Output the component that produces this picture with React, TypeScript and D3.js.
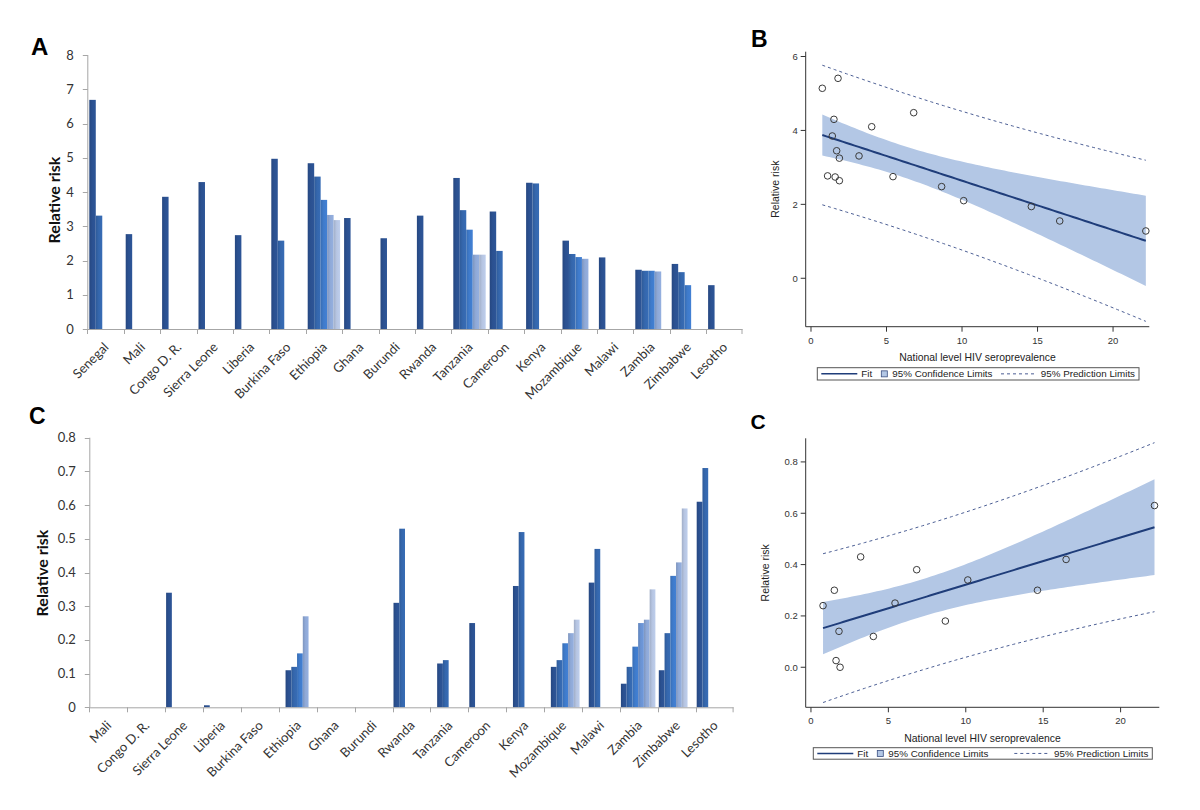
import React from 'react';
import * as d3 from 'd3';

// ---------------- Panel A (bars) ----------------
const countriesA = ['Senegal', 'Mali', 'Congo D. R.', 'Sierra Leone', 'Liberia', 'Burkina Faso', 'Ethiopia', 'Ghana', 'Burundi', 'Rwanda', 'Tanzania', 'Cameroon', 'Kenya', 'Mozambique', 'Malawi', 'Zambia', 'Zimbabwe', 'Lesotho'];
const a1 = [6.69, 2.77, 3.86, 4.29, 2.74, 4.97, 4.84, 3.24, 2.65, 3.31, 4.41, 3.43, 4.27, 2.58, 2.09, 1.73, 1.9, 1.28];
const a2 = [3.31, null, null, null, null, 2.58, 4.45, null, null, null, 3.47, 2.28, 4.25, 2.19, null, 1.7, 1.66, null];
const a3 = [null, null, null, null, null, null, 3.77, null, null, null, 2.9, null, null, 2.1, null, 1.7, 1.28, null];
const a4 = [null, null, null, null, null, null, 3.33, null, null, null, 2.17, null, null, 2.05, null, 1.68, null, null];
const a5 = [null, null, null, null, null, null, 3.18, null, null, null, 2.17, null, null, null, null, null, null, null];
const seriesA = [a1, a2, a3, a4, a5];
const yTicksA = [0, 1, 2, 3, 4, 5, 6, 7, 8];

// ---------------- Panel C (bars) ----------------
const countriesC = ['Mali', 'Congo D. R.', 'Sierra Leone', 'Liberia', 'Burkina Faso', 'Ethiopia', 'Ghana', 'Burundi', 'Rwanda', 'Tanzania', 'Cameroon', 'Kenya', 'Mozambique', 'Malawi', 'Zambia', 'Zimbabwe', 'Lesotho'];
const c1 = [null, null, 0.34, 0.006, null, null, null, null, 0.31, null, 0.25, null, null, null, 0.07, 0.11, 0.61];
const c2 = [null, null, null, null, null, 0.11, null, null, 0.53, 0.13, null, 0.36, 0.12, 0.37, 0.12, 0.22, 0.71];
const c3 = [null, null, null, null, null, 0.12, null, null, null, 0.14, null, 0.52, 0.14, 0.47, 0.18, 0.39, null];
const c4 = [null, null, null, null, null, 0.16, null, null, null, null, null, null, 0.19, null, 0.25, 0.43, null];
const c5 = [null, null, null, null, null, 0.27, null, null, null, null, null, null, 0.22, null, 0.26, 0.59, null];
const c6 = [null, null, null, null, null, null, null, null, null, null, null, null, 0.26, null, 0.35, null, null];
const seriesC = [c1, c2, c3, c4, c5, c6];
const yTicksC = [0, 0.1, 0.2, 0.3, 0.4, 0.5, 0.6, 0.7, 0.8];

// ---------------- Panel B (scatter) ----------------
const prevB = [0.75, 1.79, 1.52, 1.41, 1.7, 1.88, 1.1, 1.6, 1.88, 3.18, 4.02, 5.43, 6.8, 8.65, 10.11, 14.59, 16.47, 22.17];
const rrB = [5.14, 5.41, 4.3, 3.85, 3.45, 3.25, 2.77, 2.74, 2.64, 3.31, 4.1, 2.75, 4.48, 2.48, 2.1, 1.94, 1.55, 1.28];
const yTicksB = [0, 2, 4, 6];

// ---------------- Panel C (scatter) ----------------
const prevD = [0.78, 1.51, 1.81, 1.62, 1.88, 3.21, 4.03, 5.43, 6.83, 8.68, 10.13, 14.63, 16.48, 22.19];
const rrD = [0.24, 0.3, 0.14, 0.026, 0.0, 0.43, 0.12, 0.25, 0.38, 0.18, 0.34, 0.3, 0.42, 0.63];
const yTicksD = [0, 0.2, 0.4, 0.6, 0.8];
const xTicksScatter = [0, 5, 10, 15, 20];

const legendLabels = ['Fit', '95% Confidence Limits', '95% Prediction Limits'];

// ---------------- styling ----------------
const barPalette = ['#2b5191', '#3567ad', '#3f7bcb', '#6a93d3', '#8fa9d7', '#b6c5e2'];
function colorIdx(k: number, n: number) {
  if (n === 4) return [0, 1, 2, 4][k];
  if (n === 5) return [0, 1, 2, 4, 5][k];
  return k;
}
const BAR_FONT = 'Lato, "Open Sans", sans-serif';
const SC_FONT = '"Liberation Sans", Arimo, Arial, sans-serif';
const LETTER_FONT = '"Liberation Sans", Arial, sans-serif';

const tTable: Record<number, number> = { 8: 2.306, 9: 2.262, 10: 2.2281, 11: 2.201, 12: 2.1788, 13: 2.1604, 14: 2.1448, 15: 2.1314, 16: 2.1199, 17: 2.1098, 18: 2.1009, 19: 2.093, 20: 2.086 };

function regress(xs: number[], ys: number[]) {
  const n = xs.length;
  const xbar = d3.mean(xs)!;
  const ybar = d3.mean(ys)!;
  let sxx = 0, sxy = 0;
  xs.forEach((x, i) => { sxx += (x - xbar) ** 2; sxy += (x - xbar) * (ys[i] - ybar); });
  const b = sxy / sxx;
  const a = ybar - b * xbar;
  let sse = 0;
  xs.forEach((x, i) => { sse += (ys[i] - a - b * x) ** 2; });
  const s = Math.sqrt(sse / (n - 2));
  const t = tTable[n - 2] ?? 2.0;
  return (x: number) => {
    const fit = a + b * x;
    const k = 1 / n + (x - xbar) ** 2 / sxx;
    const ci = t * s * Math.sqrt(k);
    const pi = t * s * Math.sqrt(1 + k);
    return { x, fit, cl: fit - ci, cu: fit + ci, pl: fit - pi, pu: fit + pi };
  };
}

type BarProps = {
  id: string; cats: string[]; series: (number | null)[][]; yMax: number; yTicks: number[];
  left: number; right: number; top: number; bottom: number; slotPad: [number, number];
  labelX: number; labelY: number; labelSize: number;
};

function BarPanel(p: BarProps) {
  const x = d3.scaleBand<string>().domain(p.cats).range([p.left, p.right]).padding(0);
  const slots = d3.range(p.series.length).map(String);
  const xs = d3.scaleBand<string>().domain(slots).range([p.slotPad[0], x.bandwidth() - p.slotPad[1]]).padding(0);
  const y = d3.scaleLinear().domain([0, p.yMax]).range([p.bottom, p.top]);
  const fmt = (v: number) => (v === 0 ? '0' : d3.format('~g')(v));
  const bars: JSX.Element[] = [];
  p.cats.forEach((c, ci) => {
    const present = p.series.map((s, si) => ({ v: s[ci], si })).filter(d => d.v != null) as { v: number; si: number }[];
    present.forEach((d, k) => {
      const col = colorIdx(k, present.length);
      const x0 = x(c)! + xs(String(d.si))!;
      bars.push(
        <rect key={`${c}-${d.si}`} x={x0} y={y(d.v)} width={xs.bandwidth()} height={y(0) - y(d.v)}
          fill={`url(#${p.id}-g${col})`} />
      );
    });
  });
  const axisX = p.left + 0.5;
  return (
    <g>
      <defs>
        {barPalette.map((c, i) => (
          <linearGradient key={i} id={`${p.id}-g${i}`} x1="0" x2="1" y1="0" y2="0">
            <stop offset="0" stopColor={d3.color(c)!.darker(0.35).formatHex()} />
            <stop offset="0.45" stopColor={c} />
            <stop offset="1" stopColor={d3.color(c)!.brighter(0.12).formatHex()} />
          </linearGradient>
        ))}
      </defs>
      {bars}
      <line x1={axisX} x2={axisX} y1={p.top} y2={p.bottom} stroke="#a6a6a6" />
      {p.yTicks.map(t => (
        <g key={t}>
          <line x1={axisX - 5} x2={axisX} y1={Math.round(y(t)) + 0.5} y2={Math.round(y(t)) + 0.5} stroke="#a6a6a6" />
          <text x={axisX - 14} y={y(t)} dy="0.35em" textAnchor="end" fontSize={13} fill="#333" fontFamily={BAR_FONT}>{fmt(t)}</text>
        </g>
      ))}
      <line x1={p.left} x2={p.right} y1={p.bottom + 0.5} y2={p.bottom + 0.5} stroke="#a6a6a6" />
      {p.cats.map(c => (
        <line key={c} x1={Math.round(x(c)!) + 0.5} x2={Math.round(x(c)!) + 0.5} y1={p.bottom} y2={p.bottom + 5} stroke="#a6a6a6" />
      ))}
      <line x1={p.right - 0.5} x2={p.right - 0.5} y1={p.bottom} y2={p.bottom + 5} stroke="#a6a6a6" />
      {p.cats.map(c => {
        const cx = x(c)! + x.bandwidth() / 2;
        return (
          <text key={c} transform={`translate(${cx + 4},${p.bottom + 19}) rotate(-45)`} textAnchor="end"
            fontSize={13} fill="#333" fontFamily={BAR_FONT}>{c}</text>
        );
      })}
      <text transform={`translate(${p.labelX},${p.labelY}) rotate(-90)`} textAnchor="middle"
        fontSize={p.labelSize} fontWeight="bold" fill="#111" fontFamily={BAR_FONT}>Relative risk</text>
    </g>
  );
}

type ScProps = {
  xsData: number[]; ysData: number[]; xDomain: [number, number]; xRange: [number, number];
  yDomain: [number, number]; yRange: [number, number]; yTicks: number[]; yFmt: (v: number) => string;
  yLabelX: number; xLabelY: number; legendBox: [number, number, number, number]; fs: number;
};

function ScatterPanel(p: ScProps) {
  const x = d3.scaleLinear().domain(p.xDomain).range(p.xRange);
  const y = d3.scaleLinear().domain(p.yDomain).range(p.yRange);
  const model = regress(p.xsData, p.ysData);
  const xmin = d3.min(p.xsData)!, xmax = d3.max(p.xsData)!;
  const samples = d3.range(81).map(i => model(xmin + (xmax - xmin) * i / 80));
  const area = d3.area<any>().x(d => x(d.x)).y0(d => y(d.cl)).y1(d => y(d.cu));
  const line = (key: string) => d3.line<any>().x(d => x(d.x)).y(d => y(d[key]))(samples) as string;
  const [x0, x1] = p.xRange;
  const [yb, yt] = p.yRange;
  const [lx, ly, lw, lh] = p.legendBox;
  const lyc = ly + lh / 2;
  const fs = p.fs;
  return (
    <g fontFamily={SC_FONT}>
      <path d={area(samples) as string} fill="#b3c7e5" />
      <path d={line('pu')} fill="none" stroke="#4b5e94" strokeWidth={1} strokeDasharray="3 3" />
      <path d={line('pl')} fill="none" stroke="#4b5e94" strokeWidth={1} strokeDasharray="3 3" />
      <path d={line('fit')} fill="none" stroke="#1f3d7a" strokeWidth={2} />
      {p.xsData.map((v, i) => (
        <circle key={i} cx={x(v)} cy={y(p.ysData[i])} r={3.3} fill="none" stroke="#3a3a3a" strokeWidth={1} />
      ))}
      <line x1={x0} x2={x0} y1={yt} y2={yb} stroke="#333" />
      <line x1={x0} x2={x1} y1={yb} y2={yb} stroke="#333" />
      {p.yTicks.map(t => (
        <g key={t}>
          <line x1={x0 - 5} x2={x0} y1={y(t)} y2={y(t)} stroke="#333" />
          <text x={x0 - 8} y={y(t)} dy="0.35em" textAnchor="end" fontSize={fs} fill="#333">{p.yFmt(t)}</text>
        </g>
      ))}
      {xTicksScatter.map(t => (
        <g key={t}>
          <line x1={x(t)} x2={x(t)} y1={yb} y2={yb + 5} stroke="#333" />
          <text x={x(t)} y={yb + 17} textAnchor="middle" fontSize={fs} fill="#333">{t}</text>
        </g>
      ))}
      <text x={(x0 + x1) / 2} y={p.xLabelY} textAnchor="middle" fontSize={10.4} fill="#222">National level HIV seroprevalence</text>
      <text transform={`translate(${p.yLabelX},${(yt + yb) / 2}) rotate(-90)`} textAnchor="middle" fontSize={10.5} fill="#222">Relative risk</text>
      <rect x={lx} y={ly} width={lw} height={lh} fill="#fff" stroke="#555" strokeWidth={1} />
      <line x1={lx + 4} x2={lx + 40} y1={lyc} y2={lyc} stroke="#1f3d7a" strokeWidth={1.5} />
      <text x={lx + 44} y={lyc} dy="0.35em" fontSize={9.8} fill="#222">{legendLabels[0]}</text>
      <rect x={lx + 64} y={lyc - 3} width={6} height={6} fill="#b3c7e5" stroke="#3a4f80" strokeWidth={0.8} />
      <text x={lx + 75} y={lyc} dy="0.35em" fontSize={9.8} fill="#222">{legendLabels[1]}</text>
      <line x1={lx + lw - 138} x2={lx + lw - 104} y1={lyc} y2={lyc} stroke="#4b5e94" strokeDasharray="3 3" />
      <text x={lx + lw - 4} y={lyc} dy="0.35em" textAnchor="end" fontSize={9.8} fill="#222">{legendLabels[2]}</text>
    </g>
  );
}

export default function App() {
  return (
    <div style={{ position: 'absolute', left: 0, top: 0 }}>
      <svg width={1200} height={810} style={{ display: 'block', background: '#fff' }}>
        <rect width={1200} height={810} fill="#fff" />
        <text x={31} y={55} fontSize={24} fontWeight="bold" fontFamily={LETTER_FONT}>A</text>
        <text x={751} y={47} fontSize={23} fontWeight="bold" fontFamily={LETTER_FONT}>B</text>
        <text x={29} y={423.5} fontSize={23} fontWeight="bold" fontFamily={LETTER_FONT}>C</text>
        <text x={750.5} y={428.5} fontSize={21} fontWeight="bold" fontFamily={LETTER_FONT}>C</text>

        <BarPanel id="ba" cats={countriesA} series={seriesA} yMax={8} yTicks={yTicksA}
          left={87.3} right={742.5} top={55} bottom={329} slotPad={[2, 2]} labelX={60} labelY={200} labelSize={16} />
        <BarPanel id="bc" cats={countriesC} series={seriesC} yMax={0.8} yTicks={yTicksC}
          left={89.3} right={733.6} top={437.7} bottom={707.3} slotPad={[1, 2.4]} labelX={48} labelY={573} labelSize={16} />

        <ScatterPanel xsData={prevB} ysData={rrB} xDomain={[-0.35, 22.4]} xRange={[805.7, 1149.3]}
          yDomain={[-1.31, 6.13]} yRange={[326.7, 51.7]} yTicks={yTicksB} yFmt={v => String(v)}
          yLabelX={779} xLabelY={361} legendBox={[817.3, 367.7, 321.7, 12.3]} fs={9.5} />
        <ScatterPanel xsData={prevD} ysData={rrD} xDomain={[-0.34, 22.5]} xRange={[805.7, 1159.3]}
          yDomain={[-0.156, 0.892]} yRange={[707.3, 438.3]} yTicks={yTicksD} yFmt={v => d3.format('.1f')(v)}
          yLabelX={769} xLabelY={741.5} legendBox={[813.3, 747.7, 339, 11.5]} fs={9.5} />
      </svg>
    </div>
  );
}
